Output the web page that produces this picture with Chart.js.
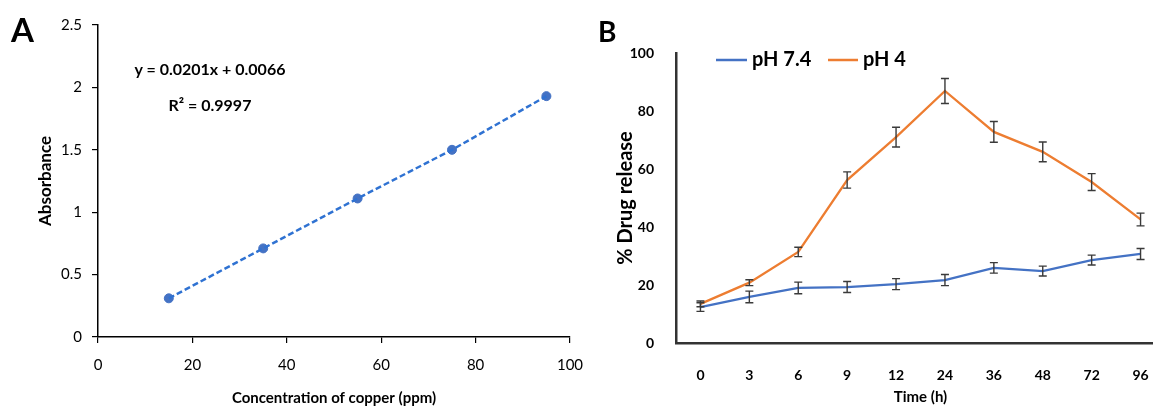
<!DOCTYPE html>
<html><head><meta charset="utf-8">
<script src="https://cdn.jsdelivr.net/npm/chart.js@4"></script>
<style>
html,body{margin:0;padding:0;background:#fff;width:1153px;height:407px;overflow:hidden;position:relative;}
#wa{position:absolute;left:0;top:0;width:600px;height:407px;}
#wb{position:absolute;left:580px;top:0;width:600px;height:407px;}
.lbl{position:absolute;font-family:Lato,sans-serif;font-weight:bold;line-height:1;color:#000;white-space:nowrap;}
</style></head><body>
<div id="wa"><canvas id="ca" width="600" height="407"></canvas></div>
<div id="wb"><canvas id="cb" width="600" height="407"></canvas></div>
<div class="lbl" style="left:11px;top:12.5px;font-size:33px">A</div>
<div class="lbl" style="left:598px;top:17px;font-size:28px">B</div>
<div class="lbl" style="left:110px;top:60.5px;width:200px;text-align:center;font-size:16px">y = 0.0201x + 0.0066</div>
<div class="lbl" style="left:110px;top:96.5px;width:200px;text-align:center;font-size:16px">R² = 0.9997</div>
<script>
// ---- Panel A data ----
const concentration = [15, 35, 55, 75, 95];
const absorbance = [0.31, 0.71, 1.11, 1.50, 1.93];
// ---- Panel B data ----
const timeLabels = ['0', '3', '6', '9', '12', '24', '36', '48', '72', '96'];
const ph74 = [12.4, 15.9, 19.0, 19.3, 20.3, 21.7, 25.9, 24.8, 28.6, 30.7];
const ph74Err = [1.5, 2.0, 2.0, 1.9, 1.9, 1.9, 1.8, 1.7, 1.7, 1.9];
const ph4 = [13.5, 20.8, 31.4, 56.2, 71.0, 86.9, 72.8, 65.9, 55.5, 42.6];
const ph4Err = [1.0, 1.0, 1.6, 2.8, 3.4, 4.3, 3.6, 3.4, 2.9, 2.2];

const FONT = 'Lato, sans-serif';
const pointsA = concentration.map((x, i) => ({x: x, y: absorbance[i]}));

new Chart(document.getElementById('ca'), {
  type: 'scatter',
  data: {datasets: [
    {data: pointsA, showLine: true, borderColor: '#2f72d2', borderWidth: 2.5, borderDash: [6, 3], pointRadius: 0, fill: false},
    {data: pointsA, showLine: false, pointRadius: 4.5, pointBackgroundColor: '#4472C4', pointBorderColor: '#4472C4'}
  ]},
  options: {
    responsive: false, animation: false, devicePixelRatio: 1,
    layout: {padding: {left: 0, right: 30, top: 25, bottom: 0}},
    plugins: {legend: {display: false}, tooltip: {enabled: false}},
    scales: {
      x: {type: 'linear', min: 0, max: 100,
        ticks: {stepSize: 20, color: '#000', font: {family: FONT, size: 15}, padding: 13, maxRotation: 0},
        grid: {drawOnChartArea: false, color: '#000', tickLength: 6, lineWidth: 1.2},
        border: {color: '#000', width: 1.5},
        title: {display: true, text: 'Concentration of copper (ppm)', color: '#000', font: {family: FONT, size: 15, weight: 'bold'}, padding: {top: 0, bottom: 0}},
        afterFit(s) { s.height = 70; }
      },
      y: {min: 0, max: 2.5,
        ticks: {stepSize: 0.5, color: '#000', font: {family: FONT, size: 15}, padding: 10, callback: v => String(v)},
        grid: {drawOnChartArea: false, color: '#000', tickLength: 6, lineWidth: 1.2},
        border: {color: '#000', width: 1.5},
        title: {display: true, text: 'Absorbance', color: '#000', font: {family: FONT, size: 17, weight: 'bold'}, padding: {top: 35, bottom: 0}},
        afterFit(s) { s.width = 98; }
      }
    }
  }
});

const errorBars = {
  id: 'errorBars',
  afterDatasetsDraw(chart) {
    const ctx = chart.ctx, ys = chart.scales.y;
    ctx.save();
    ctx.strokeStyle = '#3a3a3a';
    ctx.lineWidth = 1.4;
    chart.data.datasets.forEach((ds, di) => {
      const meta = chart.getDatasetMeta(di);
      meta.data.forEach((pt, i) => {
        const v = ds.data[i], e = ds.errors[i];
        const yt = ys.getPixelForValue(v + e), yb = ys.getPixelForValue(v - e);
        const px = pt.x;
        ctx.beginPath();
        ctx.moveTo(px, yt); ctx.lineTo(px, yb);
        ctx.moveTo(px - 4, yt); ctx.lineTo(px + 4, yt);
        ctx.moveTo(px - 4, yb); ctx.lineTo(px + 4, yb);
        ctx.stroke();
      });
    });
    ctx.restore();
  }
};

const legendB = {
  id: 'legendB',
  afterDraw(chart) {
    const ctx = chart.ctx;
    const items = [
      {ds: chart.data.datasets[0], x0: 136, x1: 167, tx: 172},
      {ds: chart.data.datasets[1], x0: 248, x1: 278, tx: 283}
    ];
    ctx.save();
    ctx.font = 'bold 20px ' + FONT;
    ctx.textBaseline = 'middle';
    ctx.fillStyle = '#000';
    items.forEach(it => {
      ctx.strokeStyle = it.ds.borderColor;
      ctx.lineWidth = 2.5;
      ctx.beginPath(); ctx.moveTo(it.x0, 60); ctx.lineTo(it.x1, 60); ctx.stroke();
      ctx.fillText(it.ds.label, it.tx, 60);
    });
    ctx.restore();
  }
};

new Chart(document.getElementById('cb'), {
  type: 'line',
  data: {labels: timeLabels, datasets: [
    {label: 'pH 7.4', data: ph74, errors: ph74Err, borderColor: '#4472C4', backgroundColor: '#4472C4', borderWidth: 2.3, pointRadius: 0, tension: 0, fill: false},
    {label: 'pH 4', data: ph4, errors: ph4Err, borderColor: '#ED7D31', backgroundColor: '#ED7D31', borderWidth: 2.3, pointRadius: 0, tension: 0, fill: false}
  ]},
  options: {
    responsive: false, animation: false, devicePixelRatio: 1,
    layout: {padding: {left: 0, right: 15, top: 53, bottom: 0}},
    plugins: {legend: {display: false}, tooltip: {enabled: false}},
    scales: {
      x: {offset: true,
        ticks: {color: '#000', font: {family: FONT, size: 14, weight: 'bold'}, padding: 16, maxRotation: 0, autoSkip: false},
        grid: {display: false},
        border: {color: '#333', width: 2.5},
        title: {display: true, text: 'Time (h)', color: '#000', font: {family: FONT, size: 15, weight: 'bold'}, padding: {top: 0, bottom: 1}},
        afterFit(s) { s.height = 64; }
      },
      y: {min: 0, max: 100,
        ticks: {stepSize: 20, color: '#000', font: {family: FONT, size: 14, weight: 'bold'}, padding: 14},
        grid: {display: false},
        border: {color: '#333', width: 2.5},
        title: {display: true, text: '% Drug release', color: '#000', font: {family: FONT, size: 20, weight: 'bold'}, padding: {top: 34, bottom: 0}},
        afterFit(s) { s.width = 96; }
      }
    }
  },
  plugins: [errorBars, legendB]
});
</script>
</body></html>
